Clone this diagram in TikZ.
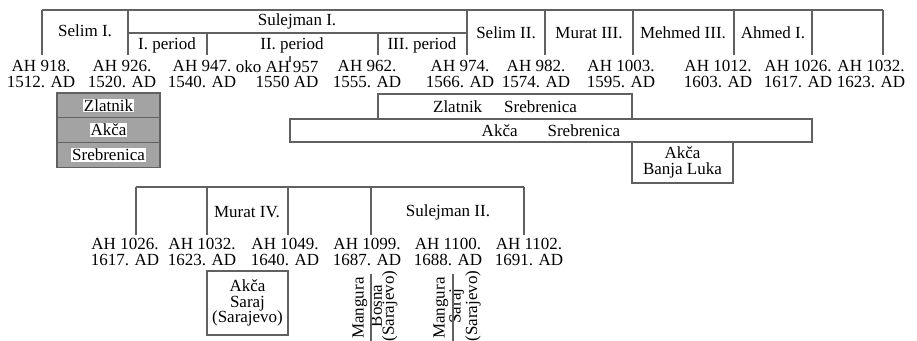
\documentclass[tikz,border=0pt]{standalone}
\usepackage{fontspec}
\setmainfont{Liberation Serif}[Ligatures=TeX]
\newfontfamily\timesfont{Liberation Serif}
\usetikzlibrary{positioning}
\definecolor{linegray}{gray}{0.38}
\definecolor{cellgray}{gray}{0.64}
\setlength{\fboxsep}{0.8pt}

\begin{document}
\begin{tikzpicture}
[   x=1pt,y=-1pt,line width=1.1pt,font=\timesfont\fontsize{17}{15.5}\selectfont,
    date/.style={align=center,inner sep=0pt},
    ruler/.style={draw=linegray},
    box/.style={draw=linegray,outer sep=0pt,inner sep=0pt,anchor=north west,align=center},
    cell/.style={box,fill=cellgray,minimum width=103,minimum height=24.7,anchor=north},
    flip/.style={rotate=90,align=center,inner sep=0pt,font=\timesfont\fontsize{17}{12}\selectfont}
]
    \useasboundingbox (0,0) rectangle (917,340);
    % upper ruler
    \coordinate (ubase) at (0,55);
    \coordinate (u1) at (42,10);
    \coordinate (u2) at (128,10);
    \coordinate (u3) at (467,10);
    \coordinate (u4) at (545,10);
    \coordinate (u5) at (633,10);
    \coordinate (u6) at (734,10);
    \coordinate (u7) at (812,10);
    \coordinate (u8) at (883,10);
    \coordinate (p1) at (128,33);
    \coordinate (p2) at (207,33);
    \coordinate (p3) at (378,33);
    \coordinate (p4) at (467,33);
    \coordinate (tick) at (290,56);
    \draw[ruler] (u1) -- (u8);
    \draw[ruler] (p1) -- (p4);
    \draw[ruler] (u1) -- (u1 |- ubase) (u2) -- (u2 |- ubase) (u3) -- (u3 |- ubase) (u4) -- (u4 |- ubase)
                 (u5) -- (u5 |- ubase) (u6) -- (u6 |- ubase) (u7) -- (u7 |- ubase) (u8) -- (u8 |- ubase);
    \draw[ruler] (p2) -- (p2 |- ubase) (p3) -- (p3 |- ubase);
        \draw[ruler] (tick) -- ++(0,6);
    \node (selim1) at (85,31) {Selim I.};
    \node (sul1) at (297,21) {Sulejman I.};
    \node (per1) at (167,45) {I. period};
    \node (per2) at (292,45) {II. period};
    \node (per3) at (422,45) {III. period};
    \node (selim2) at (506,33) {Selim II.};
    \node (murat3) at (589,33) {Murat III.};
    \node (mehmed3) at (683,33) {Mehmed III.};
    \node (ahmed1) at (773,33) {Ahmed I.};
    \node[date] (d918) at (41,74) {AH 918.\\1512. AD};
    \node[date] (d926) at (122,74) {AH 926.\\1520. AD};
    \node[date] (d947) at (202,74) {AH 947.\\1540. AD};
    \node[date,align=right,anchor=east] (d957) at (319,74) {oko AH\,957\\1550 AD};
    \node[date] (d962) at (367,74) {AH 962.\\1555. AD};
    \node[date] (d974) at (460,74) {AH 974.\\1566. AD};
    \node[date] (d982) at (536,74) {AH 982.\\1574. AD};
    \node[date] (d1003) at (621,74) {AH 1003.\\1595. AD};
    \node[date] (d1012) at (718,74) {AH 1012.\\1603. AD};
    \node[date] (d1026) at (798,74) {AH 1026.\\1617. AD};
    \node[date] (d1032) at (871,74) {AH 1032.\\1623. AD};
    % mints
    \node[cell] (zlatnik) at (108.5,93) {\colorbox{white}{Zlatnik}};
    \node[cell,below=0pt of zlatnik] (akca) {\colorbox{white}{Akča}};
    \node[cell,below=0pt of akca] (srebrenica) {\colorbox{white}{Srebrenica}};
    \node[box,minimum width=254,minimum height=25] (zs) at (378,94) {Zlatnik\hspace{22pt}Srebrenica};
    \node[box,minimum width=522,minimum height=23] (as) at (290,119) {Akča\hspace{30pt}Srebrenica};
    \node[box,minimum width=101,minimum height=41] (bl) at (632,142) {Akča\\Banja Luka};
    % lower ruler
    \coordinate (lbase) at (0,235);
    \coordinate (l1) at (136,187);
    \coordinate (l2) at (207,187);
    \coordinate (l3) at (288,187);
    \coordinate (l4) at (371,187);
    \coordinate (l5) at (524,187);
    \draw[ruler] (l1) -- (l5);
    \draw[ruler] (l1) -- (l1 |- lbase) (l2) -- (l2 |- lbase) (l3) -- (l3 |- lbase)
                 (l4) -- (l4 |- lbase) (l5) -- (l5 |- lbase);
    \node (murat4) at (247,212) {Murat IV.};
    \node (sul2) at (448,212) {Sulejman II.};
    \node[date] (d1026b) at (125,252) {AH 1026.\\1617. AD};
    \node[date] (d1032b) at (202,252) {AH 1032.\\1623. AD};
    \node[date] (d1049) at (285,252) {AH 1049.\\1640. AD};
    \node[date] (d1099) at (367,252) {AH 1099.\\1687. AD};
    \node[date] (d1100) at (448,252) {AH 1100.\\1688. AD};
    \node[date] (d1102) at (529,252) {AH 1102.\\1691. AD};
    \node[box,minimum width=81,minimum height=64] (saraj) at (207,271) {Akča\\Saraj\\(Sarajevo)};
    \node[flip] (mang1) at (360,308) {Mangura};
    \node[flip] (bosna) at (384,306) {Bosna\\(Sarajevo)};
    \node[flip] (mang2) at (441,308) {Mangura};
    \node[flip] (sarajv) at (465,306) {Saraj\\(Sarajevo)};
    \coordinate (bar1) at (371,274);
    \coordinate (bar2) at (453,274);
    \draw[ruler] (bar1) -- (bar1 |- 0,345) (bar2) -- (bar2 |- 0,345);
\end{tikzpicture}
\end{document}
